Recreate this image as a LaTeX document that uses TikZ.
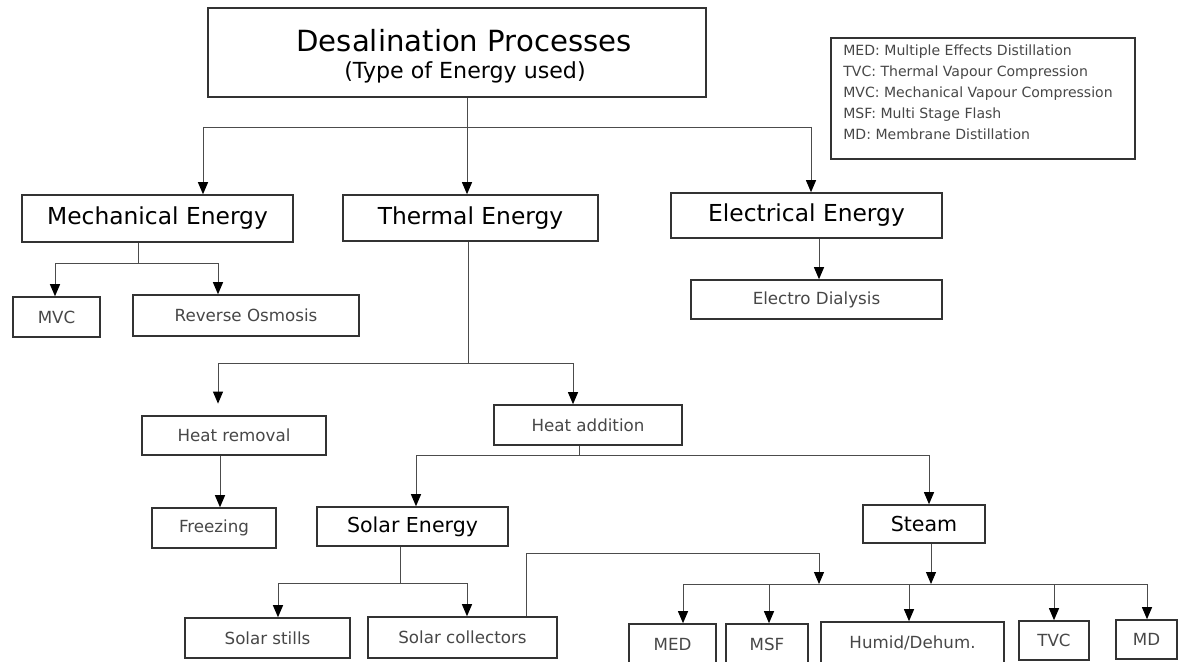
\documentclass[tikz,border=0pt]{standalone}
\usepackage{fontspec}
\setmainfont{DejaVu Sans}
\usetikzlibrary{arrows.meta}
\begin{document}
\begin{tikzpicture}[x=0.02cm,y=-0.02cm,
  box/.style={draw=black!80,line width=0.9pt,inner sep=0pt,anchor=center},
  big/.style={box,font=\fontsize{13.3}{16}\selectfont},
  mid/.style={box,font=\fontsize{11.7}{14}\selectfont},
  small/.style={box,font=\fontsize{9.5}{12}\selectfont,text=black!72},
  ln/.style={draw=black!70,line width=0.55pt},
  arr/.style={ln,-{Triangle[length=2.4mm,width=2mm,color=black]}}
]
\useasboundingbox (0,0) rectangle (1179,662);

% ---------- boxes ----------
\node[box,minimum width=9.96cm,minimum height=1.78cm] (top) at (457,52.5) {};
\node[inner sep=0pt,font=\fontsize{16.6}{20}\selectfont] (title) at (464,41) {Desalination Processes};
\node[inner sep=0pt,font=\fontsize{12.6}{15}\selectfont] (subtitle) at (465,72) {(Type of Energy used)};

\node[box,minimum width=6.08cm,minimum height=2.42cm] (legend) at (983,98.5) {};
\node[inner sep=0pt,anchor=west,align=left,text=black!72,font=\fontsize{8}{11.9}\selectfont] (legtext) at (843,92)
  {MED: Multiple Effects Distillation\\TVC: Thermal Vapour Compression\\MVC: Mechanical Vapour Compression\\MSF: Multi Stage Flash\\MD: Membrane Distillation};

\node[big,minimum width=5.42cm,minimum height=0.94cm] (mech) at (157.5,218.5) {Mechanical Energy};
\node[big,minimum width=5.10cm,minimum height=0.92cm] (therm) at (470.5,218) {Thermal Energy};
\node[big,minimum width=5.42cm,minimum height=0.90cm] (elec) at (806.5,215.5) {Electrical Energy};

\node[small,minimum width=1.74cm,minimum height=0.80cm] (mvc) at (56.5,317) {MVC};
\node[small,minimum width=4.52cm,minimum height=0.82cm] (ro) at (246,315.5) {Reverse Osmosis};
\node[small,minimum width=5.02cm,minimum height=0.78cm] (ed) at (816.5,299.5) {Electro Dialysis};

\node[small,minimum width=3.68cm,minimum height=0.78cm] (hrem) at (234,435.5) {Heat removal};
\node[small,minimum width=3.76cm,minimum height=0.80cm] (hadd) at (588,425) {Heat addition};
\node[small,minimum width=2.48cm,minimum height=0.80cm] (freeze) at (214,528) {Freezing};
\node[mid,minimum width=3.82cm,minimum height=0.78cm] (solar) at (412.5,526.5) {Solar Energy};
\node[mid,minimum width=2.44cm,minimum height=0.76cm] (steam) at (924,524) {Steam};

\node[small,minimum width=3.30cm,minimum height=0.80cm] (stills) at (267.5,638) {Solar stills};
\node[small,minimum width=3.78cm,minimum height=0.82cm] (coll) at (462.5,637.5) {Solar collectors};
\node[small,minimum width=1.74cm,minimum height=0.80cm] (med) at (672.5,644) {MED};
\node[small,minimum width=1.64cm,minimum height=0.80cm] (msf) at (767,644) {MSF};
\node[small,minimum width=3.66cm,minimum height=0.82cm] (humid) at (912.5,642.5) {Humid/Dehum.};
\node[small,minimum width=1.40cm,minimum height=0.78cm] (tvc) at (1054,640.5) {TVC};
\node[small,minimum width=1.22cm,minimum height=0.78cm] (md) at (1146.5,639.5) {MD};

% ---------- junction coordinates ----------
\coordinate (jtop) at (467,127);
\coordinate (jmechL) at (203,127);
\coordinate (jelecR) at (811,127);
\coordinate (jm) at (138,263);
\coordinate (jmvc) at (55,263);
\coordinate (jro) at (218,263);
\coordinate (jed) at (819,0);
\coordinate (jt) at (468,363);
\coordinate (jhrem) at (218,363);
\coordinate (jhadd) at (573,363);
\coordinate (jfr) at (220,0);
\coordinate (jh) at (579,455);
\coordinate (jsolar) at (416,455);
\coordinate (jsteam) at (929,455);
\coordinate (js) at (400,583);
\coordinate (jstills) at (278,583);
\coordinate (jcoll) at (467,583);
\coordinate (jcup) at (526,553);
\coordinate (jcright) at (819,553);
\coordinate (jbar) at (819,584);
\coordinate (jst) at (931,584);
\coordinate (jmed) at (683,584);
\coordinate (jmsf) at (769,584);
\coordinate (jhum) at (909,584);
\coordinate (jtvc) at (1054,584);
\coordinate (jmd) at (1147,584);

% ---------- connectors ----------
\draw[arr] (top.south -| jtop) -- (therm.north -| jtop);
\draw[ln] (jmechL) -- (jelecR);
\draw[arr] (jmechL) -- (mech.north -| jmechL);
\draw[arr] (jelecR) -- (elec.north -| jelecR);

\draw[ln] (mech.south -| jm) -- (jm);
\draw[ln] (jmvc) -- (jro);
\draw[arr] (jmvc) -- (mvc.north -| jmvc);
\draw[arr] (jro) -- (ro.north -| jro);

\draw[arr] (elec.south -| jed) -- (ed.north -| jed);

\draw[ln] (therm.south -| jt) -- (jt);
\draw[ln] (jhrem) -- (jhadd);
\draw[arr,shorten >=6.6pt] (jhrem) -- (hrem.north -| jhrem);
\draw[arr] (jhadd) -- (hadd.north -| jhadd);

\draw[arr] (hrem.south -| jfr) -- (freeze.north -| jfr);

\draw[ln] (hadd.south -| jh) -- (jh);
\draw[ln] (jsolar) -- (jsteam);
\draw[arr] (jsolar) -- (solar.north -| jsolar);
\draw[arr] (jsteam) -- (steam.north -| jsteam);

\draw[ln] (solar.south -| js) -- (js);
\draw[ln] (jstills) -- (jcoll);
\draw[arr] (jstills) -- (stills.north -| jstills);
\draw[arr] (jcoll) -- (coll.north -| jcoll);

\draw[arr] (coll.north -| jcup) -- (jcup) -- (jcright) -- (jbar);
\draw[arr] (steam.south -| jst) -- (jst);

\draw[ln] (jmed) -- (jmd);
\draw[arr] (jmed) -- (med.north -| jmed);
\draw[arr] (jmsf) -- (msf.north -| jmsf);
\draw[arr] (jhum) -- (humid.north -| jhum);
\draw[arr] (jtvc) -- (tvc.north -| jtvc);
\draw[arr] (jmd) -- (md.north -| jmd);
\end{tikzpicture}
\end{document}
